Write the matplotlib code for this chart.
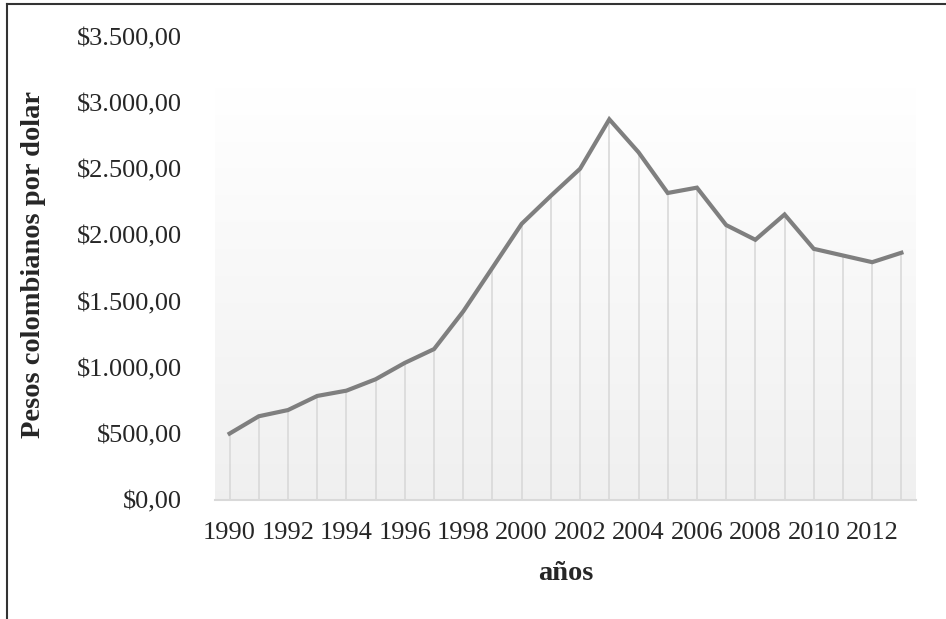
import numpy as np
import matplotlib
matplotlib.use("Agg")
import matplotlib.pyplot as plt
from matplotlib.lines import Line2D
from matplotlib.ticker import FuncFormatter

# Average exchange rate, Colombian pesos per US dollar
years = list(range(1990, 2014))
rates = [502.26, 633.05, 680.00, 786.60, 826.60, 912.80, 1036.70, 1140.96,
         1426.04, 1756.23, 2087.90, 2299.77, 2504.24, 2877.65, 2628.61, 2320.83,
         2361.14, 2078.35, 1967.11, 2158.26, 1898.68, 1848.17, 1797.79, 1869.10]
xtick_years = list(range(1990, 2014, 2))
yticks = [0, 500, 1000, 1500, 2000, 2500, 3000, 3500]

plt.rcParams['font.family'] = ['Liberation Serif', 'DejaVu Serif']

fig = plt.figure(figsize=(9.46, 6.19), dpi=100)
ax = fig.add_axes([215 / 946, 1 - 500 / 619, (916 - 215) / 946, (500 - 37) / 619])

x0, x1 = years[0] - 0.5, years[-1] + 0.5
ax.set_xlim(x0, x1)
ax.set_ylim(0, 3500)

# plot-area background: white at the top fading to light grey at the bottom
grad = np.linspace(1.0, 0.94, 256).reshape(-1, 1)
rgb = np.dstack([grad, grad, grad])
ax.imshow(rgb, extent=[x0, x1, 0, 3120], aspect='auto', origin='upper', zorder=0)

# drop lines from every point down to the axis
ax.vlines(years, 0, rates, colors='#d9d9d9', linewidth=1.2, zorder=1)
ax.plot(years, rates, color='#7f7f7f', linewidth=3.0, solid_joinstyle='miter', zorder=3)

for side in ['top', 'right', 'left']:
    ax.spines[side].set_visible(False)
ax.spines['bottom'].set_color('#d9d9d9')
ax.spines['bottom'].set_linewidth(1.5)

ax.set_xticks(xtick_years)
ax.set_xticklabels([str(y) for y in xtick_years])
ax.set_yticks(yticks)

def peso_fmt(v, pos):
    s = f"{int(v):,}".replace(",", ".")
    return f"${s},00"

ax.yaxis.set_major_formatter(FuncFormatter(peso_fmt))
ax.tick_params(axis='both', length=0, labelsize=19, colors='#262626')
ax.tick_params(axis='y', pad=24)
ax.tick_params(axis='x', pad=16)

ax.set_xlabel('años', fontsize=20.5, fontweight='bold', color='#262626', labelpad=12)
fig.text(34 / 946, 1 - 265 / 619, 'Pesos colombianos por dolar', rotation=90,
         fontsize=20.5, fontweight='bold', color='#262626', ha='center', va='center')

# chart frame (top and left edges)
fig.add_artist(Line2D([7 / 946, 1.0], [1 - 4 / 619, 1 - 4 / 619], color='#333333',
                      linewidth=1.5, transform=fig.transFigure))
fig.add_artist(Line2D([7 / 946, 7 / 946], [0.0, 1 - 4 / 619], color='#333333',
                      linewidth=1.5, transform=fig.transFigure))

fig.savefig('out.png', dpi=100)
